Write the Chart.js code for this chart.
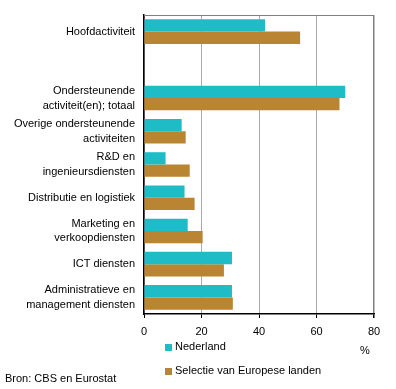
<!DOCTYPE html>
<html>
<head>
<meta charset="utf-8">
<script src="https://cdn.jsdelivr.net/npm/chart.js@4"></script>
<style>
  html, body { margin: 0; padding: 0; background: #fff; }
  #wrap { width: 396px; height: 389px; position: relative; }
</style>
</head>
<body>
<div id="wrap"><canvas id="chart"></canvas></div>
<script>
// categories (empty slot between main and supporting activities)
const categories = [
  ['Hoofdactiviteit'],
  [''],
  ['Ondersteunende', 'activiteit(en); totaal'],
  ['Overige ondersteunende', 'activiteiten'],
  ['R&D en', 'ingenieursdiensten'],
  ['Distributie en logistiek'],
  ['Marketing en', 'verkoopdiensten'],
  ['ICT diensten'],
  ['Administratieve en', 'management diensten']
];
const nederland = [42.1, null, 70.0, 13.1, 7.5, 14.1, 15.2, 30.6, 30.6];
const europa = [54.3, null, 68.0, 14.5, 15.9, 17.6, 20.4, 27.8, 30.9];
const xTicks = [0, 20, 40, 60, 80];
const seriesNames = ['Nederland', 'Selectie van Europese landen'];

const FONT = '"Liberation Sans", Arial, sans-serif';

// extra text + legend drawn under the plot
const extras = {
  id: 'extras',
  afterDraw(chart) {
    const ctx = chart.ctx;
    const a = chart.chartArea;
    ctx.save();
    // top border of plot
    ctx.strokeStyle = '#808080';
    ctx.lineWidth = 1;
    ctx.beginPath();
    ctx.moveTo(a.left, a.top + 0.5);
    ctx.lineTo(a.right, a.top + 0.5);
    ctx.stroke();

    ctx.font = '11px ' + FONT;
    ctx.fillStyle = '#000';
    ctx.textBaseline = 'middle';
    chart.data.datasets.forEach((ds, i) => {
      const y = 347 + i * 24;
      ctx.fillStyle = ds.backgroundColor;
      ctx.fillRect(165, y - 3, 7, 7);
      ctx.fillStyle = '#000';
      ctx.fillText(ds.label, 175, y);
    });
    ctx.fillText('%', 360, 351);
    ctx.fillText('Bron: CBS en Eurostat', 5, 379);
    ctx.restore();
  }
};

document.addEventListener('DOMContentLoaded', function() {
  const ctx = document.getElementById('chart').getContext('2d');
  new Chart(ctx, {
    type: 'bar',
    data: {
      labels: categories,
      datasets: [
        { label: seriesNames[0], data: nederland, backgroundColor: '#1EBCC6' },
        { label: seriesNames[1], data: europa, backgroundColor: '#B98532' }
      ]
    },
    options: {
      indexAxis: 'y',
      responsive: true,
      maintainAspectRatio: false,
      animation: false,
      layout: { padding: { top: 15, right: 22, left: 0, bottom: 0 } },
      datasets: { bar: { categoryPercentage: 0.74, barPercentage: 1.0 } },
      plugins: {
        legend: { display: false },
        tooltip: { enabled: false }
      },
      scales: {
        x: {
          min: 0,
          max: 80,
          afterBuildTicks: s => { s.ticks = xTicks.map(v => ({ value: v })); },
          afterFit: s => { s.height = 75; s.paddingLeft = 0; s.paddingRight = 0; },
          grid: {
            color: c => (c.tick && c.tick.value === 80) ? '#808080' : '#aaaaaa',
            lineWidth: c => (c.tick && c.tick.value === 80) ? 1.5 : 1,
            tickColor: '#000',
            tickLength: 4
          },
          border: { color: '#000', width: 1.5 },
          ticks: { color: '#000', font: { family: FONT, size: 11 }, padding: 7 }
        },
        y: {
          afterFit: s => { s.width = 144; s.paddingTop = 0; s.paddingBottom = 0; },
          grid: { display: false, drawTicks: false },
          border: { color: '#000', width: 1.5 },
          ticks: { color: '#000', font: { family: FONT, size: 11, lineHeight: 1.35 }, padding: 9, autoSkip: false }
        }
      }
    },
    plugins: [extras]
  });
});
</script>
</body>
</html>
